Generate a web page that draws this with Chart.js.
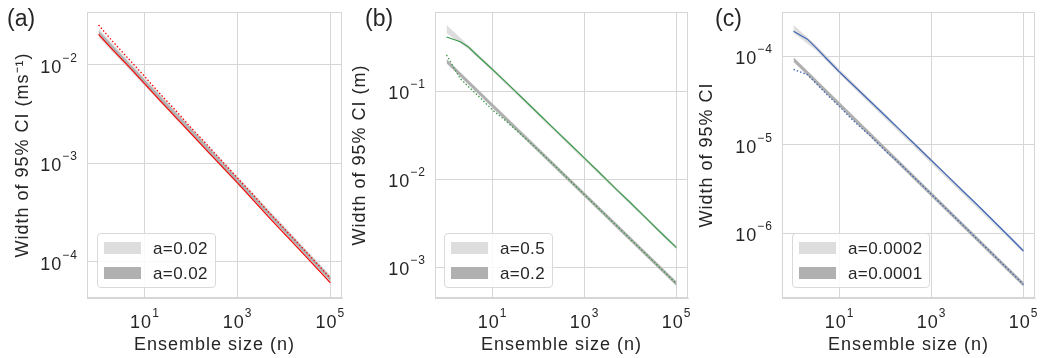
<!DOCTYPE html>
<html><head><meta charset="utf-8">
<script src="https://cdn.jsdelivr.net/npm/chart.js@4.4.1/dist/chart.umd.min.js"></script>
<style>
body{margin:0;background:#fff;width:1041px;height:358px;overflow:hidden;position:relative;font-family:"Liberation Sans",Arial,sans-serif;color:#262626;}
canvas{position:absolute;top:0;}
.plabel{position:absolute;top:7px;font-size:23px;line-height:23px;}
.legend{position:absolute;top:233px;height:55px;border:1px solid #d9d9d9;border-radius:4px;background:rgba(255,255,255,0.85);box-sizing:border-box;}
.patch{position:absolute;left:6px;width:37px;height:12px;}
.ltxt{position:absolute;left:55px;font-size:17px;line-height:17px;letter-spacing:0.4px;white-space:nowrap;}
</style></head>
<body>
<canvas id="ca" width="347" height="358" style="left:0px"></canvas>
<canvas id="cb" width="347" height="358" style="left:347px"></canvas>
<canvas id="cc" width="347" height="358" style="left:694px"></canvas>
<div id="overlay"></div>
<script>
// ---------- data ----------
const nLine = [1,2,3,5,10,20,50,100,200,500,1000,2000,5000,10000,20000,50000,100000];
const xTickValues = [10, 1000, 100000];

// panel (a)
const nBandA = [1, 10, 100000];
const lightUpperA = [0.02344, 0.007328, 0.00007328];
const lightLowerA = [0.01905, 0.006095, 0.00006095];
const nDarkA = [1, 100000];
const darkUpperA = [0.02228, 0.00007047];
const darkLowerA = [0.02009, 0.00006353];
const solidA = [0.02042,0.01429,0.01175,0.00912,0.00638,0.00447,0.00282,0.00200,0.00141,0.000891,0.000631,0.000442,0.000275,0.000195,0.000138,0.0000871,0.0000612];
const dottedA = [0.02547,0.01738,0.01413,0.01084,0.00759,0.00525,0.00331,0.00229,0.00162,0.001012,0.000708,0.000501,0.000309,0.000219,0.000155,0.0000977,0.0000684];
const yTickExpA = [-2, -3, -4];
const legendA = ['a=0.02', 'a=0.02'];

// panel (b)
const nBandB = [1, 3, 10, 100000];
const lightUpperB = [0.5623, 0.3311, 0.1841, 0.001738];
const lightLowerB = [0.4571, 0.2985, 0.1679, 0.001585];
const nDarkB = [1, 100000];
const darkUpperB = [0.2317, 0.000684];
const darkLowerB = [0.2065, 0.000610];
const solidB = [0.4111,0.3631,0.3162,0.2455,0.1758,0.1245,0.07852,0.05521,0.03890,0.02455,0.01730,0.01216,0.007586,0.005370,0.003758,0.002344,0.001660];
const dottedB = [0.2570,0.1380,0.1122,0.08710,0.06095,0.04519,0.02951,0.02113,0.01500,0.009419,0.006637,0.004677,0.002938,0.002070,0.001459,0.000916,0.000646];
const yTickExpB = [-1, -2, -3];
const legendB = ['a=0.5', 'a=0.2'];

// panel (c)
const nBandC = [1, 3, 10, 100000];
const lightUpperC = [2.239e-4, 1.349e-4, 7.079e-5, 6.683e-7];
const lightLowerC = [1.820e-4, 1.175e-4, 6.237e-5, 6.026e-7];
const nDarkC = [1, 100000];
const darkUpperC = [9.661e-5, 2.818e-7];
const darkLowerC = [8.610e-5, 2.512e-7];
const solidC = [1.905e-4,1.549e-4,1.259e-4,9.550e-5,6.607e-5,4.677e-5,2.972e-5,2.109e-5,1.489e-5,9.419e-6,6.637e-6,4.688e-6,2.951e-6,2.089e-6,1.462e-6,9.120e-7,6.339e-7];
const dottedC = [7.079e-5,6.166e-5,5.012e-5,3.802e-5,2.692e-5,1.862e-5,1.216e-5,8.511e-6,6.209e-6,3.899e-6,2.748e-6,1.932e-6,1.216e-6,8.551e-7,6.026e-7,3.784e-7,2.661e-7];
const yTickExpC = [-4, -5, -6];
const legendC = ['a=0.0002', 'a=0.0001'];

const xTitle = 'Ensemble size (n)';
// ---------- style ----------
const GRID = '#d6d6d6';
const TXT = '#262626';
const LIGHT = '#dddddd';
const DARK = '#b0b0b0';
const FONT = '"Liberation Sans", Arial, sans-serif';

function pts(xs, ys){ return xs.map((x,i)=>({x:x, y:ys[i]})); }

function sup(e){ return (e<0?'\u2212':'') + Math.abs(e); }

function makeChart(id, p){
  const framePlugin = {
    id:'frame',
    beforeDraw(chart){ chart.ctx.letterSpacing = '1px'; },
    afterDraw(chart){
      const c = chart.ctx, a = chart.chartArea;
      c.save();
      c.strokeStyle = GRID; c.lineWidth = 1;
      c.strokeRect(Math.round(a.left)+0.5, Math.round(a.top)+0.5, Math.round(a.right-a.left)-1, Math.round(a.bottom-a.top)-1);
      c.fillStyle = TXT;
      c.textBaseline = 'alphabetic';
      const bf = '18px ' + FONT, ef = '12px ' + FONT;
      // y tick labels
      const ys = chart.scales.y;
      p.yExp.forEach(e=>{
        const py = ys.getPixelForValue(Math.pow(10,e));
        c.font = ef; const es = sup(e); const we = c.measureText(es).width;
        c.font = bf; const wb = c.measureText('10').width;
        const right = a.left - 9;
        c.font = bf; c.fillText('10', right - we - wb, py + 8);
        c.font = ef; c.fillText(es, right - we, py - 3);
      });
      const xs = chart.scales.x;
      xTickValues.forEach(v=>{
        const px = xs.getPixelForValue(v);
        const e = Math.round(Math.log10(v));
        c.font = ef; const es = sup(e); const we = c.measureText(es).width;
        c.font = bf; const wb = c.measureText('10').width;
        const start = px - (wb+we)/2;
        c.font = bf; c.fillText('10', start, a.bottom + 30);
        c.font = ef; c.fillText(es, start + wb, a.bottom + 19);
      });
      c.restore();
    }
  };
  const noLine = {borderWidth:0, borderColor:'transparent', pointRadius:0, tension:0};
  return new Chart(document.getElementById(id), {
    type:'line',
    data:{datasets:[
      Object.assign({}, {data:pts(nLine,p.solid), borderColor:p.color, borderWidth:p.lw, pointRadius:0, fill:false, tension:0}),
      Object.assign({}, {data:pts(nLine,p.dotted), borderColor:p.color, borderWidth:1.3, borderDash:[1.5,2], pointRadius:0, fill:false, tension:0}),
      Object.assign({}, noLine, {data:pts(p.nDark,p.darkUpper), backgroundColor:DARK, fill:'+1'}),
      Object.assign({}, noLine, {data:pts(p.nDark,p.darkLower), fill:false}),
      Object.assign({}, noLine, {data:pts(p.nLight,p.lightUpper), backgroundColor:LIGHT, fill:'+1'}),
      Object.assign({}, noLine, {data:pts(p.nLight,p.lightLower), fill:false})
    ]},
    options:{
      responsive:false, animation:false, devicePixelRatio:1, events:[],
      layout:{padding:{left:0, right:p.padR, top:12, bottom:0}},
      plugins:{legend:{display:false}, tooltip:{enabled:false}},
      scales:{
        x:{type:'logarithmic', min:Math.pow(10,-0.25), max:Math.pow(10,5.25),
           afterBuildTicks(s){ s.ticks = xTickValues.map(v=>({value:v})); },
           afterFit(s){ s.height = 60; },
           ticks:{display:false, autoSkip:false},
           grid:{color:GRID, drawTicks:false, lineWidth:1},
           border:{color:GRID},
           title:{display:true, text:xTitle, color:TXT, font:{family:FONT, size:18}, padding:{top:0, bottom:2}}},
        y:{type:'logarithmic', min:p.ymin, max:p.ymax,
           afterBuildTicks(s){ s.ticks = p.yExp.map(e=>({value:Math.pow(10,e)})); },
           afterFit(s){ s.width = p.yw; },
           ticks:{display:false, autoSkip:false},
           grid:{color:GRID, drawTicks:false, lineWidth:1},
           border:{color:GRID},
           title:{display:true, text:p.yTitle, color:TXT, font:{family:FONT, size:18}, padding:{top:p.tpad, bottom:0}}}
      }
    },
    plugins:[framePlugin]
  });
}

makeChart('ca', {solid:solidA, dotted:dottedA, nDark:nDarkA, darkUpper:darkUpperA, darkLower:darkLowerA,
  nLight:nBandA, lightUpper:lightUpperA, lightLower:lightLowerA, color:'#ff0000', lw:1.1,
  ymin:Math.pow(10,-4.366), ymax:Math.pow(10,-1.462), yExp:yTickExpA, yw:87, padR:5, tpad:12,
  yTitle:'Width of 95% CI (ms\u207B\u00B9)'});
makeChart('cb', {solid:solidB, dotted:dottedB, nDark:nDarkB, darkUpper:darkUpperB, darkLower:darkLowerB,
  nLight:nBandB, lightUpper:lightUpperB, lightLower:lightLowerB, color:'#3a9a4a', lw:1.2,
  ymin:Math.pow(10,-3.352), ymax:Math.pow(10,-0.102), yExp:yTickExpB, yw:88, padR:6, tpad:2,
  yTitle:'Width of 95% CI (m)'});
makeChart('cc', {solid:solidC, dotted:dottedC, nDark:nDarkC, darkUpper:darkUpperC, darkLower:darkLowerC,
  nLight:nBandC, lightUpper:lightUpperC, lightLower:lightLowerC, color:'#3f66b5', lw:1.2,
  ymin:Math.pow(10,-6.728), ymax:Math.pow(10,-3.504), yExp:yTickExpC, yw:88, padR:6, tpad:2,
  yTitle:'Width of 95% CI'});

// ---------- overlay: panel labels and legends ----------
const overlay = document.getElementById('overlay');
const panelLabels = [['(a)',7],['(b)',365],['(c)',715]];
panelLabels.forEach(([t,x])=>{
  const d = document.createElement('div'); d.className='plabel'; d.style.left = x+'px'; d.textContent = t; overlay.appendChild(d);
});
const legends = [[legendA,97,119],[legendB,444,109],[legendC,792,138]];
legends.forEach(([labels,x,w])=>{
  const box = document.createElement('div'); box.className='legend';
  box.style.left = x+'px'; box.style.width = w+'px';
  [[LIGHT,8],[DARK,33]].forEach(([col,top],i)=>{
    const pch = document.createElement('div'); pch.className='patch';
    pch.style.top = top+'px'; pch.style.background = col; box.appendChild(pch);
    const t = document.createElement('div'); t.className='ltxt';
    t.style.top = (top-2.5)+'px'; t.textContent = labels[i]; box.appendChild(t);
  });
  overlay.appendChild(box);
});
</script>
</body></html>
